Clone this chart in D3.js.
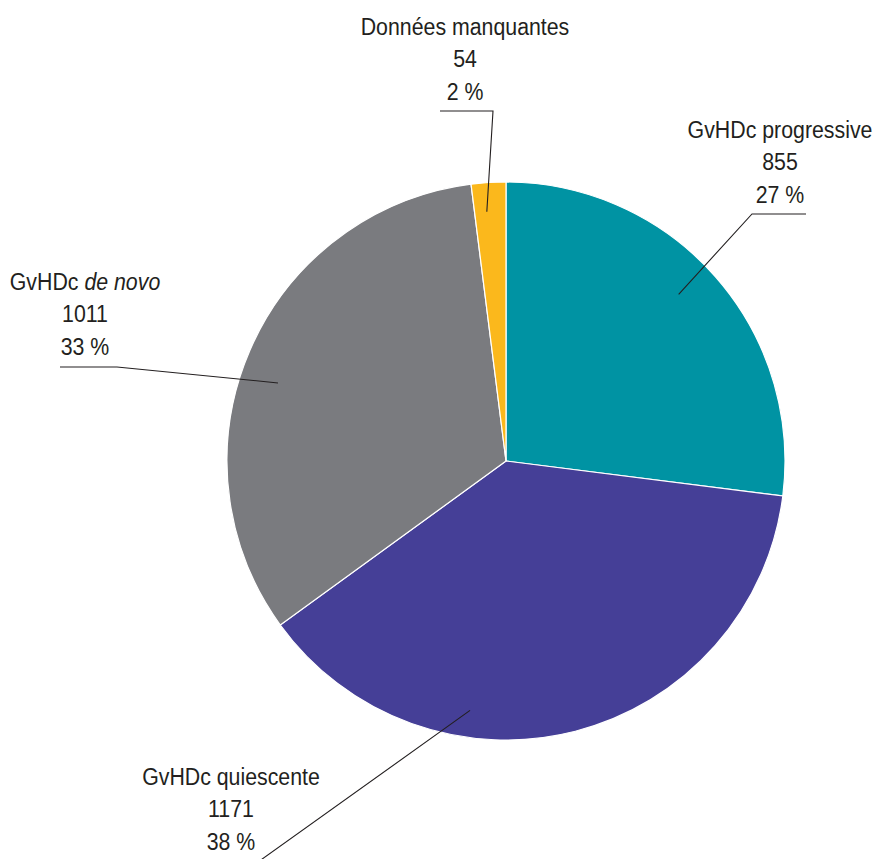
<!DOCTYPE html>
<html lang="fr">
<head>
<meta charset="UTF-8">
<title>GvHDc</title>
<script src="https://d3js.org/d3.v7.min.js"></script>
<style>
  body { margin: 0; background: #fff; }
  .lbl { font-family: "Liberation Sans", Arial, sans-serif; font-size: 23.7px; fill: #231f20; }
  .leader { fill: none; stroke: #231f20; stroke-width: 1.1; }
</style>
</head>
<body>
<svg id="chart" width="877" height="859"></svg>
<script>
// data
const categories = ["GvHDc progressive", "GvHDc quiescente", "GvHDc de novo", "Données manquantes"];
const counts = [855, 1171, 1011, 54];
const percentValues = [27, 38, 33, 2];
const colors = ["#0093a3", "#453f97", "#7a7b7f", "#fbb81c"];

// label layout: text centre x, first baseline y, leader anchor (angle shift in degrees, radius), elbow, end
const labelLayout = [
  { x: 780, y: 138, shift: -2.6, r: 240, elbow: [752, 214], end: [806, 214] },
  { x: 231, y: 785, shift: 22.6, r: 252, elbow: [258, 862], end: [200, 862] },
  { x: 85,  y: 290, shift: -4.5, r: 241, elbow: [117, 367], end: [60, 367] },
  { x: 465, y: 35,  shift: -0.8, r: 250, elbow: [493, 111], end: [440, 111] }
];

const cx = 506, cy = 461, radius = 279;
const lineH = 32.5;
const squeeze = 0.9;

const svg = d3.select("#chart");
const g = svg.append("g").attr("transform", `translate(${cx},${cy})`);

const pie = d3.pie().sort(null).value(d => d);
const arcs = pie(percentValues);
const arc = d3.arc().innerRadius(0).outerRadius(radius);

g.selectAll("path.slice")
  .data(arcs)
  .enter().append("path")
  .attr("class", "slice")
  .attr("d", arc)
  .attr("fill", (d, i) => colors[i])
  .attr("stroke", "#fff")
  .attr("stroke-width", 1.2);

// leader lines
arcs.forEach((d, i) => {
  const L = labelLayout[i];
  const a = (d.startAngle + d.endAngle) / 2 + L.shift * Math.PI / 180;
  const p = [cx + L.r * Math.sin(a), cy - L.r * Math.cos(a)];
  svg.append("path")
    .attr("class", "leader")
    .attr("d", d3.line()([p, L.elbow, L.end]));
});

// labels
categories.forEach((name, i) => {
  const L = labelLayout[i];
  const grp = svg.append("g")
    .attr("transform", `translate(${L.x},${L.y}) scale(${squeeze},1)`);
  const t = grp.append("text").attr("class", "lbl").attr("text-anchor", "middle");
  if (name.endsWith("de novo")) {
    t.append("tspan").text("GvHDc ");
    t.append("tspan").style("font-style", "italic").text("de novo");
  } else {
    t.text(name);
  }
  grp.append("text").attr("class", "lbl").attr("text-anchor", "middle")
    .attr("y", lineH).text(counts[i]);
  grp.append("text").attr("class", "lbl").attr("text-anchor", "middle")
    .attr("y", lineH * 2).text(percentValues[i] + " %");
});
</script>
</body>
</html>
